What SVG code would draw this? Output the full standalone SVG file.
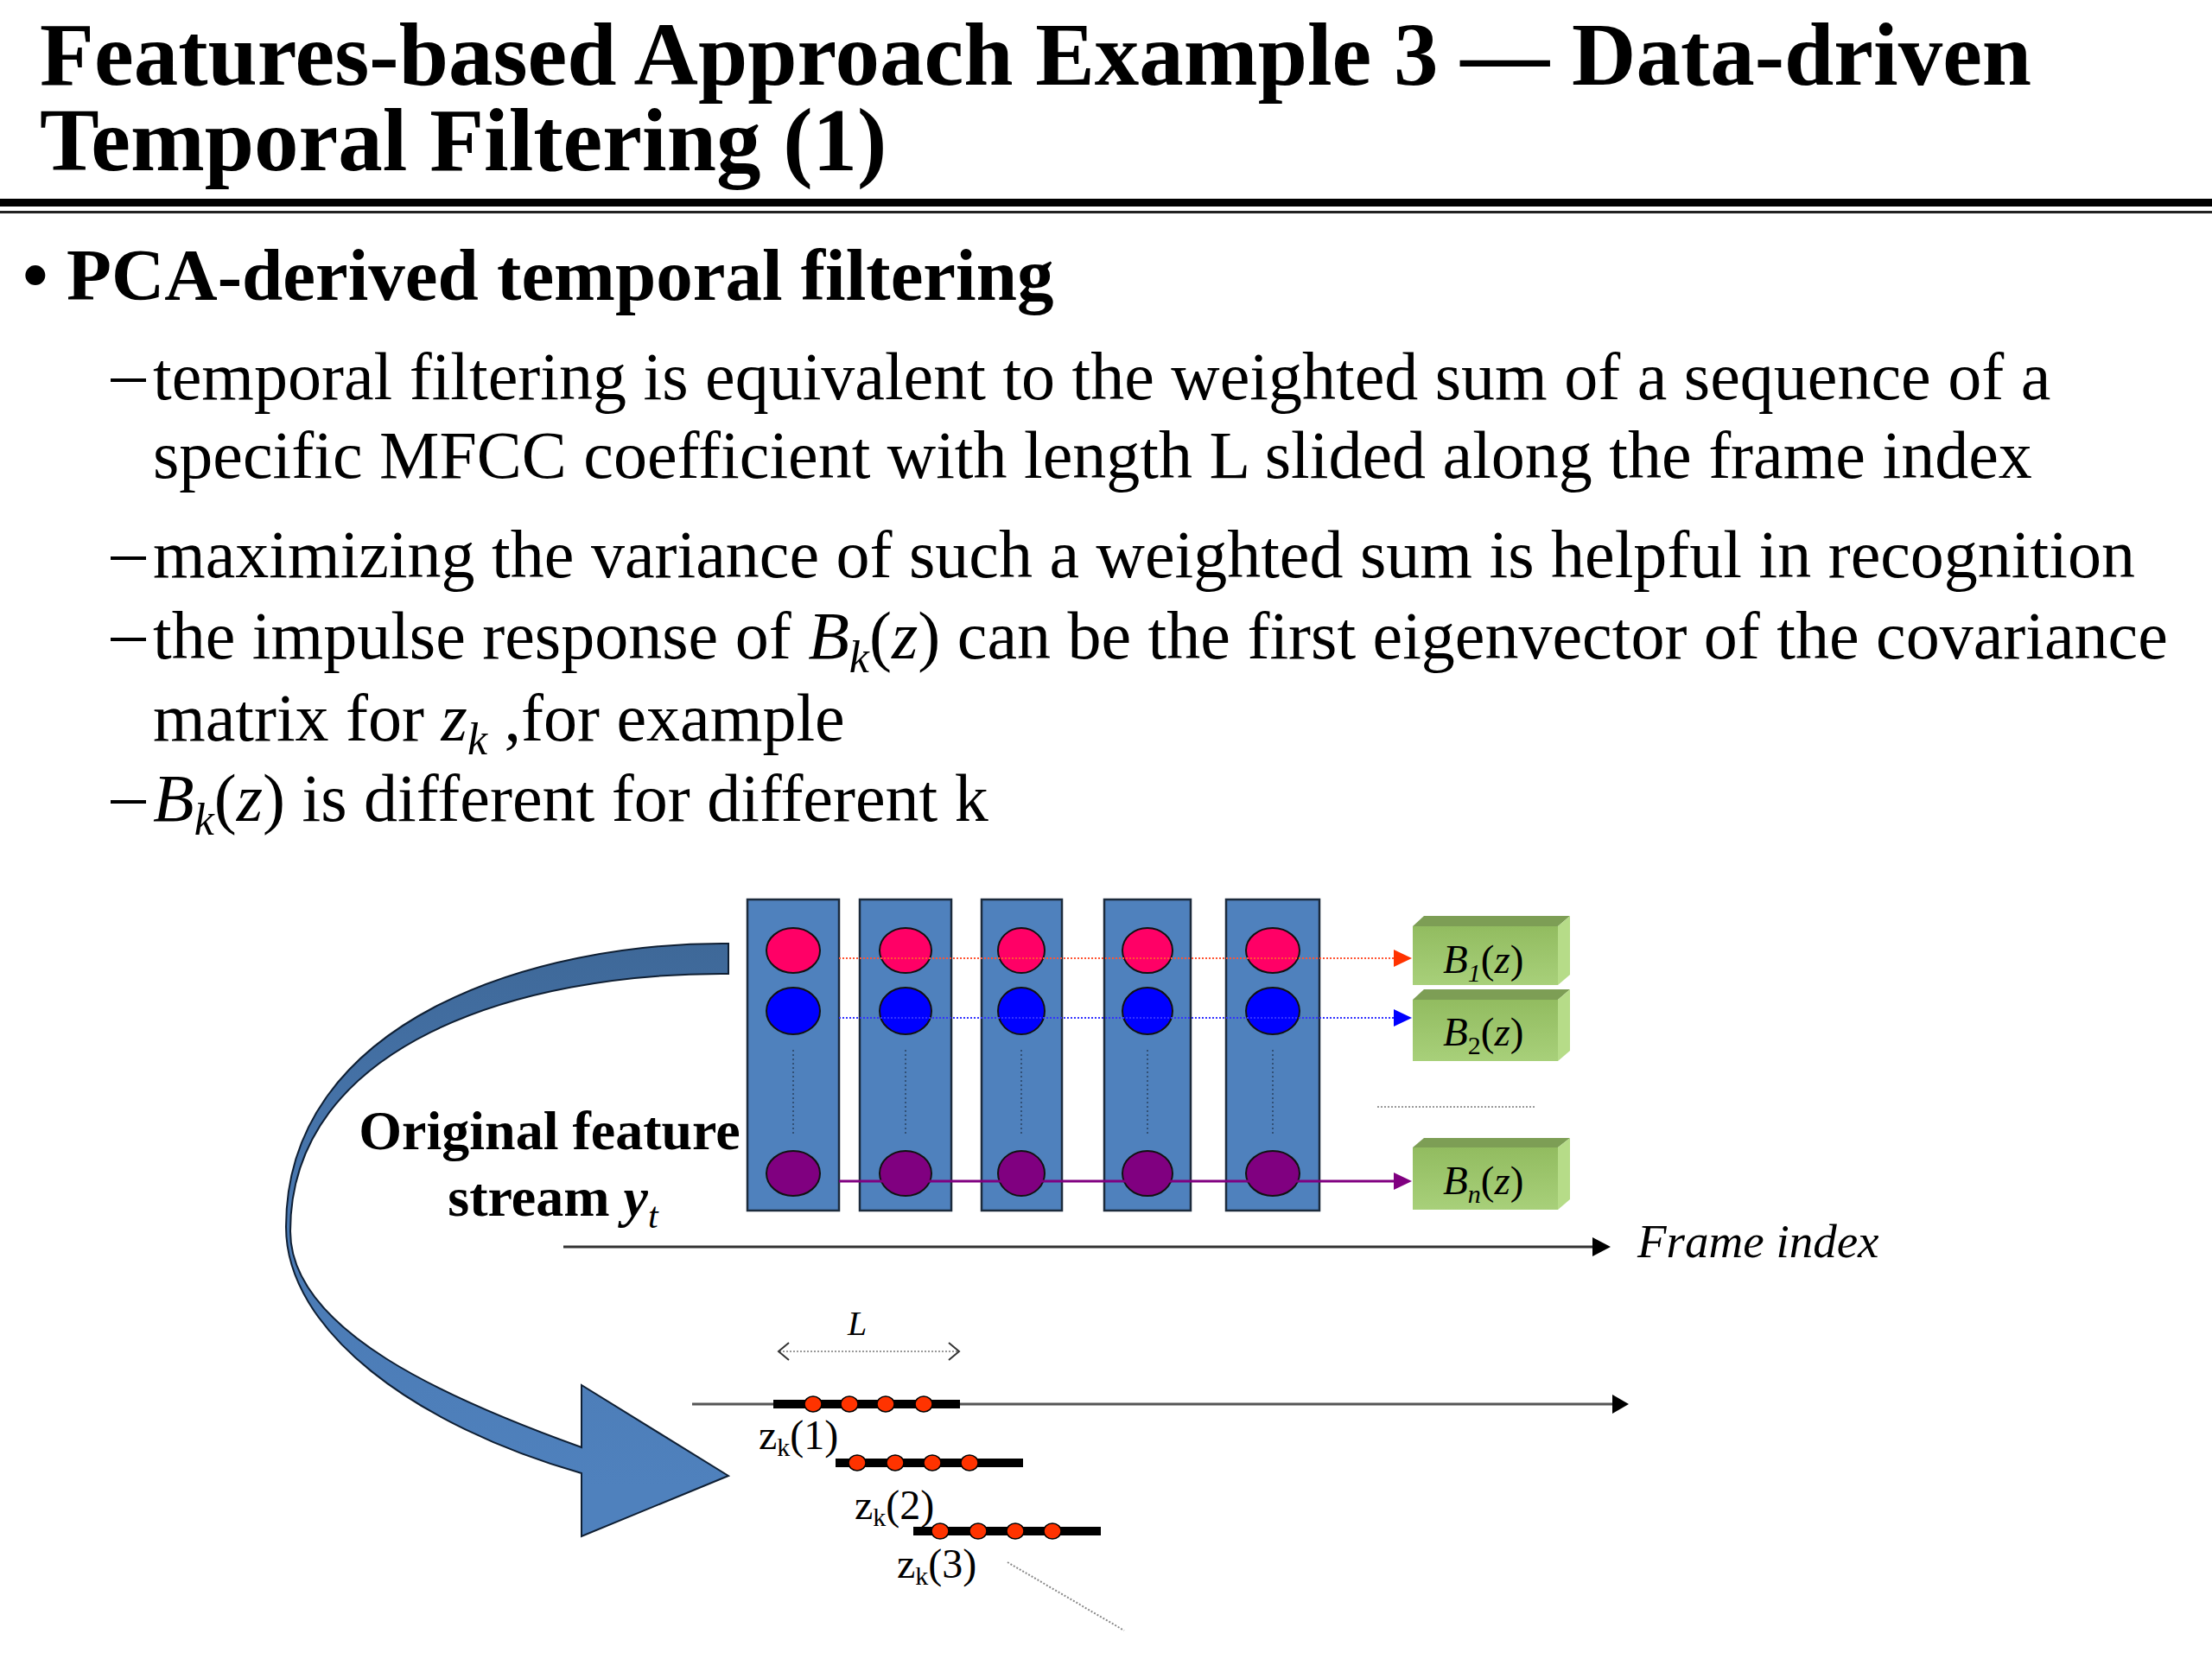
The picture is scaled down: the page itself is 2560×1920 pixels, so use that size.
<svg xmlns="http://www.w3.org/2000/svg" width="2560" height="1920" viewBox="0 0 2560 1920">
<style>
  text { font-family: "Liberation Serif", "Times New Roman", serif; fill: #000; }
  .title { font-size: 103px; font-weight: bold; }
  .lvl1 { font-size: 85px; font-weight: bold; }
  .lvl2 { font-size: 78px; }
  .i { font-style: italic; }
  .col { fill: #4F81BD; stroke: #1C2B3C; stroke-width: 2.5; }
  .ep { fill: #FF0066; stroke: #111; stroke-width: 2; }
  .eb { fill: #0000FF; stroke: #111; stroke-width: 2; }
  .eu { fill: #800080; stroke: #111; stroke-width: 2; }
  .vdot { stroke: #2A4260; stroke-width: 1.5; stroke-dasharray: 2 3; fill: none; }
  .front { fill: url(#gFront); }
  .top { fill: #7D9E55; }
  .side { fill: #B6DC88; }
  .blabel { font-size: 47px; font-style: italic; }
  .bar { fill: #000; }
  .dot { fill: #FF3300; stroke: #000; stroke-width: 1.5; }
  .zl { font-size: 48px; }
  .dash { fill: #000; }
</style>
<defs>
  <linearGradient id="gFront" x1="0" y1="0" x2="0" y2="1">
    <stop offset="0" stop-color="#92BC60"/>
    <stop offset="1" stop-color="#A8D07A"/>
  </linearGradient>
  <linearGradient id="gArrow" gradientUnits="userSpaceOnUse" x1="0" y1="1090" x2="0" y2="1720">
    <stop offset="0" stop-color="#3E6898"/>
    <stop offset="0.5" stop-color="#4A79B2"/>
    <stop offset="1" stop-color="#4F81BD"/>
  </linearGradient>
</defs>

<rect width="2560" height="1920" fill="#fff"/>

<g id="title">
  <text class="title"><tspan x="46" y="98">Features-based Approach Example 3 — Data-driven</tspan><tspan x="46" y="197">Temporal Filtering (1)</tspan></text>
  <rect x="0" y="230" width="2560" height="9" fill="#000"/>
  <rect x="0" y="244" width="2560" height="3" fill="#222"/>
</g>

<g id="bullets">
  <text class="lvl1" x="26" y="347">•</text>
  <text class="lvl1" x="77" y="347">PCA-derived temporal filtering</text>

  <rect class="dash" x="128" y="438" width="41" height="4"/>
  <text class="lvl2"><tspan x="177" y="462">temporal filtering is equivalent to the weighted sum of a sequence of a</tspan><tspan x="177" y="553">specific MFCC coefficient with length L slided along the frame index</tspan></text>

  <rect class="dash" x="128" y="644" width="41" height="4"/>
  <text class="lvl2" x="177" y="668">maximizing the variance of such a weighted sum is helpful in recognition</text>

  <rect class="dash" x="128" y="738" width="41" height="4"/>
  <text class="lvl2"><tspan x="177" y="762">the impulse response of <tspan class="i">B</tspan><tspan class="i" font-size="52" dy="16">k</tspan><tspan dy="-16">(</tspan><tspan class="i">z</tspan>) can be the first eigenvector of the covariance</tspan><tspan x="177" y="857">matrix for <tspan class="i">z</tspan><tspan class="i" font-size="52" dy="16">k</tspan><tspan dy="-16"> ,for example</tspan></tspan></text>

  <rect class="dash" x="128" y="926" width="41" height="4"/>
  <text class="lvl2" x="177" y="950"><tspan class="i">B</tspan><tspan class="i" font-size="52" dy="16">k</tspan><tspan dy="-16">(</tspan><tspan class="i">z</tspan>) is different for different k</text>
</g>

<g id="curved-arrow">
  <path d="M843,1092 C620,1090 331,1180 331,1420 C331,1540 480,1650 673,1705 L673,1778 L843,1708 L673,1603 L673,1675 C520,1620 336,1540 336,1425 C336,1210 600,1125 843,1127 Z" fill="url(#gArrow)" stroke="#0F1F33" stroke-width="2" stroke-linejoin="miter"/>
</g>

<g id="feature-stream-label">
  <text font-size="64" font-weight="bold" text-anchor="middle"><tspan x="636" y="1330">Original feature</tspan><tspan x="640" y="1407">stream <tspan class="i">y</tspan><tspan class="i" font-size="42" font-weight="normal" dy="14">t</tspan></tspan></text>
</g>

<g id="frames">
  <g id="frame1">
    <rect class="col" x="865" y="1041" width="106" height="360"/>
    <line class="vdot" x1="918" y1="1215" x2="918" y2="1315"/>
    <ellipse class="ep" cx="918" cy="1100" rx="31" ry="26"/>
    <ellipse class="eb" cx="918" cy="1170" rx="31" ry="27"/>
    <ellipse class="eu" cx="918" cy="1358" rx="31" ry="26"/>
  </g>
  <g id="frame2">
    <rect class="col" x="995" y="1041" width="106" height="360"/>
    <line class="vdot" x1="1048" y1="1215" x2="1048" y2="1315"/>
    <ellipse class="ep" cx="1048" cy="1100" rx="30" ry="26"/>
    <ellipse class="eb" cx="1048" cy="1170" rx="30" ry="27"/>
    <ellipse class="eu" cx="1048" cy="1358" rx="30" ry="26"/>
  </g>
  <g id="frame3">
    <rect class="col" x="1136" y="1041" width="93" height="360"/>
    <line class="vdot" x1="1182" y1="1215" x2="1182" y2="1315"/>
    <ellipse class="ep" cx="1182" cy="1100" rx="27" ry="26"/>
    <ellipse class="eb" cx="1182" cy="1170" rx="27" ry="27"/>
    <ellipse class="eu" cx="1182" cy="1358" rx="27" ry="26"/>
  </g>
  <g id="frame4">
    <rect class="col" x="1278" y="1041" width="100" height="360"/>
    <line class="vdot" x1="1328" y1="1215" x2="1328" y2="1315"/>
    <ellipse class="ep" cx="1328" cy="1100" rx="29" ry="26"/>
    <ellipse class="eb" cx="1328" cy="1170" rx="29" ry="27"/>
    <ellipse class="eu" cx="1328" cy="1358" rx="29" ry="26"/>
  </g>
  <g id="frame5">
    <rect class="col" x="1419" y="1041" width="108" height="360"/>
    <line class="vdot" x1="1473" y1="1215" x2="1473" y2="1315"/>
    <ellipse class="ep" cx="1473" cy="1100" rx="31" ry="26"/>
    <ellipse class="eb" cx="1473" cy="1170" rx="31" ry="27"/>
    <ellipse class="eu" cx="1473" cy="1358" rx="31" ry="26"/>
  </g>
</g>

<g id="filter-B1">
  <polygon class="top" points="1635,1072 1648,1060 1817,1060 1803,1072"/>
  <polygon class="side" points="1803,1072 1817,1060 1817,1128 1803,1140"/>
  <rect class="front" x="1635" y="1072" width="168" height="68"/>
  <text class="blabel" x="1670" y="1126">B<tspan font-size="30" dy="10">1</tspan><tspan dy="-10" font-style="normal">(</tspan>z<tspan font-style="normal">)</tspan></text>
</g>
<g id="filter-B2">
  <polygon class="top" points="1635,1157 1648,1145 1817,1145 1803,1157"/>
  <polygon class="side" points="1803,1157 1817,1145 1817,1216 1803,1228"/>
  <rect class="front" x="1635" y="1157" width="168" height="71"/>
  <text class="blabel" x="1670" y="1210">B<tspan font-size="30" dy="10" font-style="normal">2</tspan><tspan dy="-10" font-style="normal">(</tspan>z<tspan font-style="normal">)</tspan></text>
</g>
<g id="filter-Bn">
  <polygon class="top" points="1635,1328 1648,1317 1817,1317 1803,1328"/>
  <polygon class="side" points="1803,1328 1817,1317 1817,1388 1803,1400"/>
  <rect class="front" x="1635" y="1328" width="168" height="72"/>
  <text class="blabel" x="1670" y="1382">B<tspan font-size="30" dy="10">n</tspan><tspan dy="-10" font-style="normal">(</tspan>z<tspan font-style="normal">)</tspan></text>
</g>

<g id="connectors">
  <line x1="971" y1="1109" x2="1614" y2="1109" stroke="#FF5533" stroke-width="2" stroke-dasharray="2 2"/>
  <polygon points="1613,1099 1634,1109 1613,1119" fill="#FF3300"/>
  <line x1="971" y1="1178" x2="1614" y2="1178" stroke="#3333FF" stroke-width="2" stroke-dasharray="2 2"/>
  <polygon points="1613,1168 1634,1178 1613,1188" fill="#0000FF"/>
  <line x1="971" y1="1367" x2="1614" y2="1367" stroke="#800080" stroke-width="3"/>
  <polygon points="1613,1357 1634,1367 1613,1377" fill="#800080"/>
  <line x1="1594" y1="1281" x2="1776" y2="1281" stroke="#999" stroke-width="2" stroke-dasharray="2 2"/>
</g>

<g id="frame-axis">
  <line x1="652" y1="1443" x2="1845" y2="1443" stroke="#333" stroke-width="3"/>
  <polygon points="1843,1432 1864,1443 1843,1454" fill="#000"/>
  <text x="1895" y="1455" font-size="55" font-style="italic">Frame index</text>
</g>

<g id="window-axis">
  <line x1="801" y1="1625" x2="1868" y2="1625" stroke="#555" stroke-width="3"/>
  <polygon points="1866,1614 1885,1625 1866,1636" fill="#000"/>
  <text x="981" y="1545" font-size="40" font-style="italic">L</text>
  <line x1="902" y1="1564" x2="1109" y2="1564" stroke="#999" stroke-width="2" stroke-dasharray="2 2"/>
  <polyline points="913,1554 901,1564 913,1574" fill="none" stroke="#333" stroke-width="2"/>
  <polyline points="1098,1554 1110,1564 1098,1574" fill="none" stroke="#333" stroke-width="2"/>
</g>

<g id="zk1">
  <rect class="bar" x="895" y="1620" width="216" height="10"/>
  <ellipse class="dot" cx="941" cy="1625" rx="10" ry="9"/>
  <ellipse class="dot" cx="983" cy="1625" rx="10" ry="9"/>
  <ellipse class="dot" cx="1025" cy="1625" rx="10" ry="9"/>
  <ellipse class="dot" cx="1069" cy="1625" rx="10" ry="9"/>
  <text class="zl" x="878" y="1677">z<tspan font-size="30" dy="8">k</tspan><tspan dy="-8">(1)</tspan></text>
</g>
<g id="zk2">
  <rect class="bar" x="967" y="1688" width="217" height="10"/>
  <ellipse class="dot" cx="992" cy="1693" rx="10" ry="9"/>
  <ellipse class="dot" cx="1036" cy="1693" rx="10" ry="9"/>
  <ellipse class="dot" cx="1079" cy="1693" rx="10" ry="9"/>
  <ellipse class="dot" cx="1122" cy="1693" rx="10" ry="9"/>
  <text class="zl" x="989" y="1758">z<tspan font-size="30" dy="8">k</tspan><tspan dy="-8">(2)</tspan></text>
</g>
<g id="zk3">
  <rect class="bar" x="1057" y="1767" width="217" height="10"/>
  <ellipse class="dot" cx="1088" cy="1772" rx="10" ry="9"/>
  <ellipse class="dot" cx="1132" cy="1772" rx="10" ry="9"/>
  <ellipse class="dot" cx="1175" cy="1772" rx="10" ry="9"/>
  <ellipse class="dot" cx="1218" cy="1772" rx="10" ry="9"/>
  <text class="zl" x="1038" y="1826">z<tspan font-size="30" dy="8">k</tspan><tspan dy="-8">(3)</tspan></text>
  <line x1="1166" y1="1808" x2="1301" y2="1887" stroke="#888" stroke-width="2" stroke-dasharray="2 2"/>
</g>
</svg>
